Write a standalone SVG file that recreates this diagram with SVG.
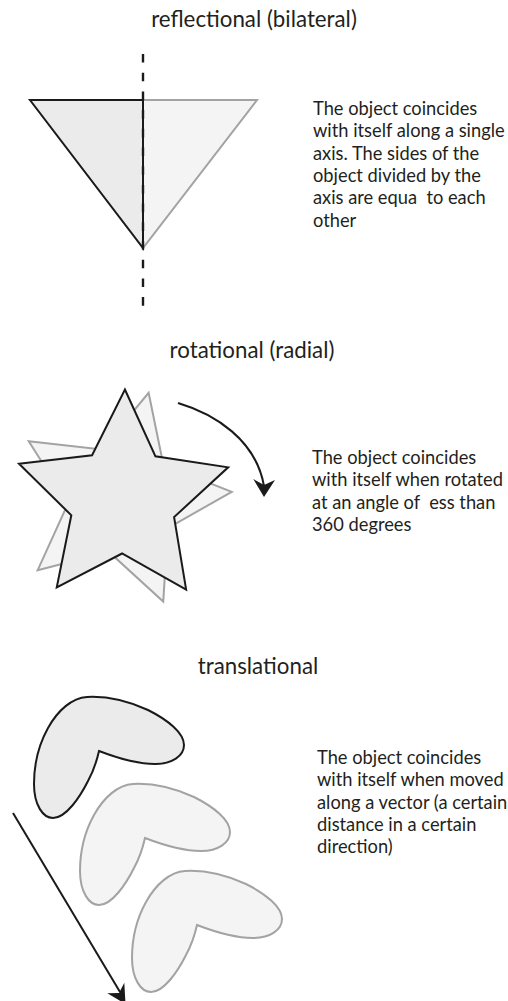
<svg xmlns="http://www.w3.org/2000/svg" width="508" height="1001" viewBox="0 0 508 1001">
<style>
.title{font-family:Lato,"Open Sans",sans-serif;font-size:22.3px;fill:#231f20;text-anchor:middle}
.body{font-family:Lato,"Open Sans",sans-serif;font-size:18.3px;fill:#231f20;white-space:pre}
.dark{fill:#ebebeb;stroke:#1a1a1a;stroke-width:2;stroke-linejoin:miter}
.light{fill:#f4f4f4;stroke:#a3a3a3;stroke-width:2;stroke-linejoin:miter}
.arrow{fill:none;stroke:#1a1a1a;stroke-width:2}
</style>
<defs>
<polygon id="star" points="0,-110 31.7,-43.7 104.6,-34 51.4,16.7 64.7,89 0,54 -64.7,89 -51.4,16.7 -104.6,-34 -31.7,-43.7"/>
<path id="boom" d="M99,751 C112,756 135,764 155,764 C172,764 184,756 184,745 C184,733 168,720 148,710 C128,701 105,696 87,697 C72,698 58,710 48,728 C38,746 34,766 34,784 C34,805 43,818 53,818 C66,818 80,797 88,781 C94,770 97,760 99,751 Z"/>
</defs>

<g id="reflectional">
<text class="title" x="254" y="27">reflectional (bilateral)</text>
<polygon class="light" points="143,100 257,100 143,248"/>
<polygon class="dark" points="143,100 30,100 143,248"/>
<line x1="143" y1="54" x2="143" y2="306" stroke="#1a1a1a" stroke-width="2.4" stroke-dasharray="8.6 10.1"/>
<text class="body" xml:space="preserve"><tspan x="313" y="115">The object coincides</tspan><tspan x="313" y="137.3">with itself along a single</tspan><tspan x="313" y="159.6">axis. The sides of the</tspan><tspan x="313" y="181.9">object divided by the</tspan><tspan x="313" y="204.2">axis are equa  to each</tspan><tspan x="313" y="226.5">other</tspan></text>
</g>

<g id="rotational">
<text class="title" x="252" y="358">rotational (radial)</text>
<use href="#star" class="light" transform="translate(122,499.5) rotate(14)"/>
<use href="#star" class="dark" transform="translate(123,499.5) rotate(1)"/>
<text class="body" xml:space="preserve"><tspan x="312" y="464">The object coincides</tspan><tspan x="312" y="486.3">with itself when rotated</tspan><tspan x="312" y="508.6">at an angle of  ess than</tspan><tspan x="312" y="530.9">360 degrees</tspan></text>
</g>

<g id="translational">
<text class="title" x="258" y="674">translational</text>
<use href="#boom" class="light" transform="translate(98,174)"/>
<use href="#boom" class="light" transform="translate(46,87)"/>
<use href="#boom" class="dark"/>
<text class="body" xml:space="preserve"><tspan x="317" y="764">The object coincides</tspan><tspan x="317" y="786.3">with itself when moved</tspan><tspan x="317" y="808.6">along a vector (a certain</tspan><tspan x="317" y="830.9">distance in a certain</tspan><tspan x="317" y="853.2">direction)</tspan></text>
</g>

<g id="connectors">
<path class="arrow" d="M178,403 C215,414 256,440 264,486"/>
<polygon fill="#1a1a1a" points="253.3,479 264,485 275,480 264,497"/>
<line class="arrow" x1="13" y1="813" x2="120" y2="992"/>
<polygon fill="#1a1a1a" points="107.3,993.3 119,993 124.3,982.7 125.5,1004"/>
</g>
</svg>
